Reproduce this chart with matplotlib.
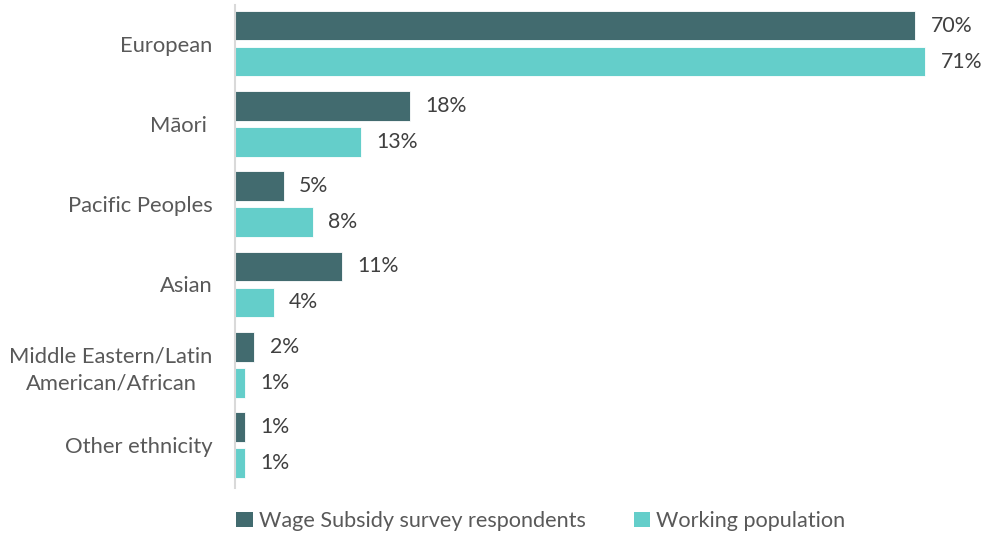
import matplotlib.pyplot as plt
import numpy as np
from matplotlib.patches import Patch

categories = ["European", "Māori ", "Pacific Peoples", "Asian",
              "Middle Eastern/Latin\nAmerican/African", "Other ethnicity"]
series_names = ["Wage Subsidy survey respondents", "Working population"]
survey = [70, 18, 5, 11, 2, 1]
working = [71, 13, 8, 4, 1, 1]

dark = "#426b6f"
light = "#64ceca"
text_col = "#404040"
label_col = "#595959"

plt.rcParams["font.family"] = ["Lato", "DejaVu Sans"]

fig = plt.figure(figsize=(9.85, 5.37), dpi=100)
ax = fig.add_axes([235 / 985, 1 - 488 / 537, 729 / 985, 483 / 537])

y = np.arange(len(categories))
off = 0.224
h = 0.37
b1 = ax.barh(y - off, survey, height=h, color=dark, edgecolor="white", linewidth=0.6)
b2 = ax.barh(y + off, working, height=h, color=light, edgecolor="white", linewidth=0.6)

for bars, vals in ((b1, survey), (b2, working)):
    for rect, v in zip(bars, vals):
        ax.annotate(f"{v}%", (v, rect.get_y() + rect.get_height() / 2),
                    xytext=(11, 0), textcoords="offset points",
                    va="center", ha="left", fontsize=15.3, color=text_col)

ax.set_xlim(0, 75)
ax.set_ylim(5.535, -0.48)
ax.set_yticks(y)
ax.set_yticklabels(categories, fontsize=15.8, color=label_col, ha="right",
                   multialignment="center", linespacing=1.45)
ax.tick_params(axis="y", length=0, pad=16)
ax.set_xticks([])
for s in ("top", "right", "bottom"):
    ax.spines[s].set_visible(False)
ax.spines["left"].set_color("#d9d9d9")
ax.spines["left"].set_linewidth(1.5)

handles = [Patch(facecolor=dark, edgecolor="none"), Patch(facecolor=light, edgecolor="none")]
fig.legend(handles, series_names, loc="center", ncol=2,
           bbox_to_anchor=(541 / 985, 1 - 521 / 537), frameon=False,
           fontsize=15.6, labelcolor=label_col, handlelength=0.75, handleheight=0.75,
           handletextpad=0.3, columnspacing=2.2)

fig.savefig("out.png", dpi=100)
